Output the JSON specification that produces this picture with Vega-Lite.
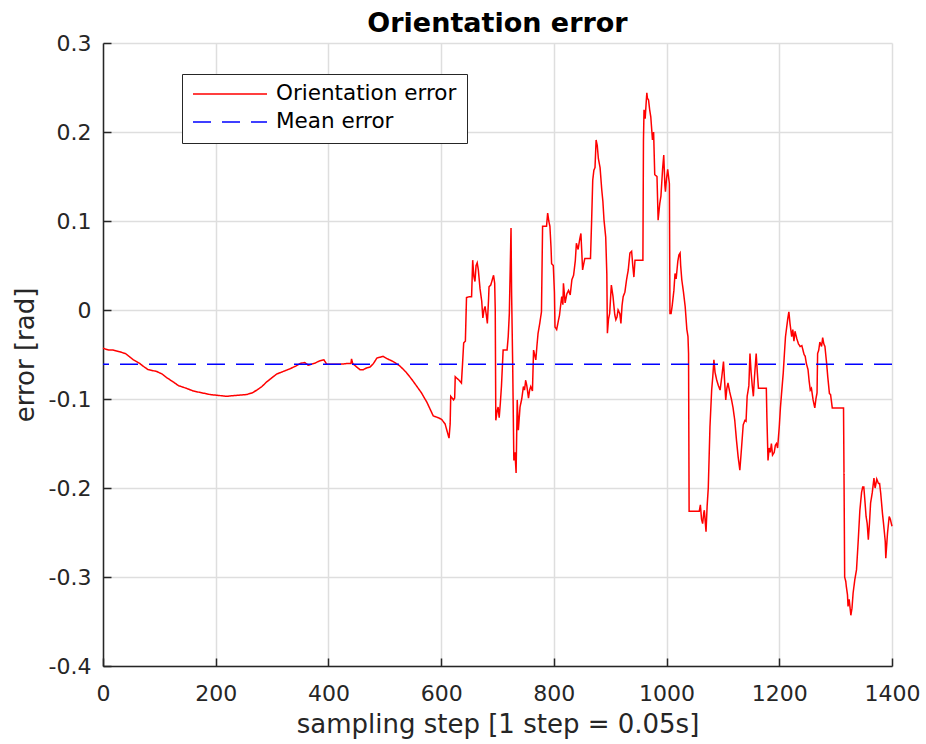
{
  "$schema": "https://vega.github.io/schema/vega-lite/v6.json",
  "width": 789,
  "height": 623,
  "autosize": {"type": "none"},
  "padding": {"left": 103, "top": 43, "right": 34, "bottom": 78},
  "background": "white",
  "config": {
    "font": "DejaVu Sans",
    "view": {"stroke": null},
    "axis": {
      "grid": true,
      "gridColor": "#dedede",
      "gridWidth": 1.5,
      "domainColor": "#262626",
      "domainWidth": 1.5,
      "tickColor": "#262626",
      "tickWidth": 1.5,
      "tickSize": -8,
      "labelFontSize": 22,
      "labelColor": "#262626",
      "labelOverlap": false,
      "titleFontSize": 26,
      "titleFontWeight": "normal",
      "titleColor": "#262626"
    },
    "legend": {
      "symbolType": "stroke",
      "symbolSize": 5476,
      "symbolStrokeWidth": 1.5,
      "clipHeight": 20,
      "labelFontSize": 21.5,
      "labelColor": "#000000",
      "labelOffset": 8,
      "labelLimit": 400,
      "padding": 10,
      "rowPadding": 6,
      "strokeColor": "#262626",
      "fillColor": "white"
    }
  },
  "title": {
    "text": "Orientation error",
    "fontSize": 27,
    "fontWeight": "bold",
    "color": "#000000",
    "anchor": "middle",
    "offset": -6
  },
  "data": {
    "values": [
      {"step": 0, "error": -0.043, "series": "Orientation error"},
      {"step": 10, "error": -0.045, "series": "Orientation error"},
      {"step": 18, "error": -0.045, "series": "Orientation error"},
      {"step": 30, "error": -0.047, "series": "Orientation error"},
      {"step": 40, "error": -0.049, "series": "Orientation error"},
      {"step": 54, "error": -0.056, "series": "Orientation error"},
      {"step": 65, "error": -0.06, "series": "Orientation error"},
      {"step": 71, "error": -0.063, "series": "Orientation error"},
      {"step": 80, "error": -0.067, "series": "Orientation error"},
      {"step": 95, "error": -0.069, "series": "Orientation error"},
      {"step": 105, "error": -0.072, "series": "Orientation error"},
      {"step": 113, "error": -0.076, "series": "Orientation error"},
      {"step": 125, "error": -0.081, "series": "Orientation error"},
      {"step": 134, "error": -0.085, "series": "Orientation error"},
      {"step": 148, "error": -0.088, "series": "Orientation error"},
      {"step": 160, "error": -0.091, "series": "Orientation error"},
      {"step": 175, "error": -0.093, "series": "Orientation error"},
      {"step": 190, "error": -0.095, "series": "Orientation error"},
      {"step": 205, "error": -0.096, "series": "Orientation error"},
      {"step": 219, "error": -0.097, "series": "Orientation error"},
      {"step": 235, "error": -0.096, "series": "Orientation error"},
      {"step": 255, "error": -0.095, "series": "Orientation error"},
      {"step": 265, "error": -0.093, "series": "Orientation error"},
      {"step": 273, "error": -0.09, "series": "Orientation error"},
      {"step": 282, "error": -0.086, "series": "Orientation error"},
      {"step": 290, "error": -0.081, "series": "Orientation error"},
      {"step": 300, "error": -0.076, "series": "Orientation error"},
      {"step": 308, "error": -0.072, "series": "Orientation error"},
      {"step": 320, "error": -0.069, "series": "Orientation error"},
      {"step": 332, "error": -0.066, "series": "Orientation error"},
      {"step": 342, "error": -0.063, "series": "Orientation error"},
      {"step": 350, "error": -0.06, "series": "Orientation error"},
      {"step": 358, "error": -0.059, "series": "Orientation error"},
      {"step": 364, "error": -0.062, "series": "Orientation error"},
      {"step": 375, "error": -0.06, "series": "Orientation error"},
      {"step": 385, "error": -0.057, "series": "Orientation error"},
      {"step": 392, "error": -0.056, "series": "Orientation error"},
      {"step": 397, "error": -0.061, "series": "Orientation error"},
      {"step": 410, "error": -0.061, "series": "Orientation error"},
      {"step": 420, "error": -0.061, "series": "Orientation error"},
      {"step": 435, "error": -0.06, "series": "Orientation error"},
      {"step": 440, "error": -0.06, "series": "Orientation error"},
      {"step": 441, "error": -0.055, "series": "Orientation error"},
      {"step": 443, "error": -0.06, "series": "Orientation error"},
      {"step": 450, "error": -0.064, "series": "Orientation error"},
      {"step": 456, "error": -0.067, "series": "Orientation error"},
      {"step": 462, "error": -0.067, "series": "Orientation error"},
      {"step": 468, "error": -0.065, "series": "Orientation error"},
      {"step": 474, "error": -0.064, "series": "Orientation error"},
      {"step": 480, "error": -0.06, "series": "Orientation error"},
      {"step": 486, "error": -0.054, "series": "Orientation error"},
      {"step": 492, "error": -0.053, "series": "Orientation error"},
      {"step": 497, "error": -0.052, "series": "Orientation error"},
      {"step": 505, "error": -0.055, "series": "Orientation error"},
      {"step": 512, "error": -0.057, "series": "Orientation error"},
      {"step": 520, "error": -0.06, "series": "Orientation error"},
      {"step": 527, "error": -0.063, "series": "Orientation error"},
      {"step": 538, "error": -0.07, "series": "Orientation error"},
      {"step": 548, "error": -0.078, "series": "Orientation error"},
      {"step": 556, "error": -0.085, "series": "Orientation error"},
      {"step": 565, "error": -0.093, "series": "Orientation error"},
      {"step": 575, "error": -0.104, "series": "Orientation error"},
      {"step": 586, "error": -0.119, "series": "Orientation error"},
      {"step": 595, "error": -0.121, "series": "Orientation error"},
      {"step": 601, "error": -0.123, "series": "Orientation error"},
      {"step": 607, "error": -0.128, "series": "Orientation error"},
      {"step": 614, "error": -0.144, "series": "Orientation error"},
      {"step": 616, "error": -0.128, "series": "Orientation error"},
      {"step": 617, "error": -0.097, "series": "Orientation error"},
      {"step": 622, "error": -0.101, "series": "Orientation error"},
      {"step": 624, "error": -0.099, "series": "Orientation error"},
      {"step": 625, "error": -0.075, "series": "Orientation error"},
      {"step": 632, "error": -0.079, "series": "Orientation error"},
      {"step": 636, "error": -0.082, "series": "Orientation error"},
      {"step": 638, "error": -0.06, "series": "Orientation error"},
      {"step": 640, "error": -0.037, "series": "Orientation error"},
      {"step": 643, "error": -0.035, "series": "Orientation error"},
      {"step": 645, "error": 0.014, "series": "Orientation error"},
      {"step": 650, "error": 0.015, "series": "Orientation error"},
      {"step": 654, "error": 0.015, "series": "Orientation error"},
      {"step": 656, "error": 0.056, "series": "Orientation error"},
      {"step": 658, "error": 0.038, "series": "Orientation error"},
      {"step": 660, "error": 0.032, "series": "Orientation error"},
      {"step": 662, "error": 0.05, "series": "Orientation error"},
      {"step": 664, "error": 0.053, "series": "Orientation error"},
      {"step": 666, "error": 0.045, "series": "Orientation error"},
      {"step": 669, "error": 0.024, "series": "Orientation error"},
      {"step": 672, "error": 0.01, "series": "Orientation error"},
      {"step": 674, "error": -0.009, "series": "Orientation error"},
      {"step": 676, "error": 0.0, "series": "Orientation error"},
      {"step": 678, "error": 0.004, "series": "Orientation error"},
      {"step": 680, "error": -0.005, "series": "Orientation error"},
      {"step": 682, "error": -0.015, "series": "Orientation error"},
      {"step": 684, "error": 0.01, "series": "Orientation error"},
      {"step": 685, "error": 0.026, "series": "Orientation error"},
      {"step": 688, "error": 0.028, "series": "Orientation error"},
      {"step": 693, "error": 0.039, "series": "Orientation error"},
      {"step": 695, "error": 0.03, "series": "Orientation error"},
      {"step": 696, "error": 0.0, "series": "Orientation error"},
      {"step": 697, "error": -0.124, "series": "Orientation error"},
      {"step": 699, "error": -0.115, "series": "Orientation error"},
      {"step": 701, "error": -0.109, "series": "Orientation error"},
      {"step": 703, "error": -0.121, "series": "Orientation error"},
      {"step": 705, "error": -0.105, "series": "Orientation error"},
      {"step": 707, "error": -0.086, "series": "Orientation error"},
      {"step": 710, "error": -0.045, "series": "Orientation error"},
      {"step": 717, "error": -0.045, "series": "Orientation error"},
      {"step": 719, "error": -0.03, "series": "Orientation error"},
      {"step": 721, "error": -0.004, "series": "Orientation error"},
      {"step": 724, "error": 0.092, "series": "Orientation error"},
      {"step": 725, "error": 0.02, "series": "Orientation error"},
      {"step": 727, "error": -0.064, "series": "Orientation error"},
      {"step": 729, "error": -0.169, "series": "Orientation error"},
      {"step": 731, "error": -0.16, "series": "Orientation error"},
      {"step": 733, "error": -0.183, "series": "Orientation error"},
      {"step": 735, "error": -0.101, "series": "Orientation error"},
      {"step": 737, "error": -0.135, "series": "Orientation error"},
      {"step": 740, "error": -0.109, "series": "Orientation error"},
      {"step": 743, "error": -0.1, "series": "Orientation error"},
      {"step": 746, "error": -0.086, "series": "Orientation error"},
      {"step": 748, "error": -0.09, "series": "Orientation error"},
      {"step": 750, "error": -0.079, "series": "Orientation error"},
      {"step": 752, "error": -0.085, "series": "Orientation error"},
      {"step": 755, "error": -0.099, "series": "Orientation error"},
      {"step": 757, "error": -0.09, "series": "Orientation error"},
      {"step": 759, "error": -0.086, "series": "Orientation error"},
      {"step": 762, "error": -0.091, "series": "Orientation error"},
      {"step": 764, "error": -0.045, "series": "Orientation error"},
      {"step": 768, "error": -0.056, "series": "Orientation error"},
      {"step": 770, "error": -0.04, "series": "Orientation error"},
      {"step": 772, "error": -0.026, "series": "Orientation error"},
      {"step": 775, "error": -0.015, "series": "Orientation error"},
      {"step": 778, "error": -0.002, "series": "Orientation error"},
      {"step": 780, "error": 0.094, "series": "Orientation error"},
      {"step": 787, "error": 0.094, "series": "Orientation error"},
      {"step": 789, "error": 0.109, "series": "Orientation error"},
      {"step": 791, "error": 0.1, "series": "Orientation error"},
      {"step": 793, "error": 0.094, "series": "Orientation error"},
      {"step": 795, "error": 0.07, "series": "Orientation error"},
      {"step": 796, "error": 0.052, "series": "Orientation error"},
      {"step": 799, "error": 0.05, "series": "Orientation error"},
      {"step": 801, "error": 0.02, "series": "Orientation error"},
      {"step": 802, "error": -0.019, "series": "Orientation error"},
      {"step": 805, "error": -0.022, "series": "Orientation error"},
      {"step": 808, "error": -0.012, "series": "Orientation error"},
      {"step": 810, "error": -0.006, "series": "Orientation error"},
      {"step": 812, "error": 0.005, "series": "Orientation error"},
      {"step": 814, "error": 0.015, "series": "Orientation error"},
      {"step": 816, "error": 0.006, "series": "Orientation error"},
      {"step": 817, "error": 0.03, "series": "Orientation error"},
      {"step": 820, "error": 0.008, "series": "Orientation error"},
      {"step": 823, "error": 0.018, "series": "Orientation error"},
      {"step": 826, "error": 0.022, "series": "Orientation error"},
      {"step": 829, "error": 0.017, "series": "Orientation error"},
      {"step": 832, "error": 0.034, "series": "Orientation error"},
      {"step": 835, "error": 0.039, "series": "Orientation error"},
      {"step": 838, "error": 0.055, "series": "Orientation error"},
      {"step": 840, "error": 0.075, "series": "Orientation error"},
      {"step": 843, "error": 0.068, "series": "Orientation error"},
      {"step": 846, "error": 0.08, "series": "Orientation error"},
      {"step": 848, "error": 0.086, "series": "Orientation error"},
      {"step": 851, "error": 0.045, "series": "Orientation error"},
      {"step": 853, "error": 0.052, "series": "Orientation error"},
      {"step": 855, "error": 0.058, "series": "Orientation error"},
      {"step": 865, "error": 0.058, "series": "Orientation error"},
      {"step": 867, "error": 0.1, "series": "Orientation error"},
      {"step": 869, "error": 0.146, "series": "Orientation error"},
      {"step": 871, "error": 0.157, "series": "Orientation error"},
      {"step": 873, "error": 0.16, "series": "Orientation error"},
      {"step": 875, "error": 0.191, "series": "Orientation error"},
      {"step": 877, "error": 0.185, "series": "Orientation error"},
      {"step": 879, "error": 0.17, "series": "Orientation error"},
      {"step": 882, "error": 0.16, "series": "Orientation error"},
      {"step": 885, "error": 0.135, "series": "Orientation error"},
      {"step": 887, "error": 0.122, "series": "Orientation error"},
      {"step": 889, "error": 0.101, "series": "Orientation error"},
      {"step": 892, "error": 0.082, "series": "Orientation error"},
      {"step": 894, "error": 0.04, "series": "Orientation error"},
      {"step": 895, "error": -0.026, "series": "Orientation error"},
      {"step": 897, "error": -0.01, "series": "Orientation error"},
      {"step": 899, "error": -0.004, "series": "Orientation error"},
      {"step": 902, "error": 0.028, "series": "Orientation error"},
      {"step": 905, "error": 0.015, "series": "Orientation error"},
      {"step": 908, "error": -0.005, "series": "Orientation error"},
      {"step": 910, "error": -0.011, "series": "Orientation error"},
      {"step": 912, "error": -0.008, "series": "Orientation error"},
      {"step": 914, "error": 0.0, "series": "Orientation error"},
      {"step": 917, "error": -0.004, "series": "Orientation error"},
      {"step": 919, "error": -0.015, "series": "Orientation error"},
      {"step": 921, "error": 0.005, "series": "Orientation error"},
      {"step": 923, "error": 0.015, "series": "Orientation error"},
      {"step": 926, "error": 0.02, "series": "Orientation error"},
      {"step": 929, "error": 0.034, "series": "Orientation error"},
      {"step": 932, "error": 0.045, "series": "Orientation error"},
      {"step": 935, "error": 0.064, "series": "Orientation error"},
      {"step": 938, "error": 0.066, "series": "Orientation error"},
      {"step": 940, "error": 0.05, "series": "Orientation error"},
      {"step": 942, "error": 0.037, "series": "Orientation error"},
      {"step": 944, "error": 0.056, "series": "Orientation error"},
      {"step": 958, "error": 0.056, "series": "Orientation error"},
      {"step": 959, "error": 0.191, "series": "Orientation error"},
      {"step": 960, "error": 0.225, "series": "Orientation error"},
      {"step": 962, "error": 0.215, "series": "Orientation error"},
      {"step": 964, "error": 0.235, "series": "Orientation error"},
      {"step": 965, "error": 0.244, "series": "Orientation error"},
      {"step": 966, "error": 0.238, "series": "Orientation error"},
      {"step": 968, "error": 0.236, "series": "Orientation error"},
      {"step": 970, "error": 0.225, "series": "Orientation error"},
      {"step": 972, "error": 0.217, "series": "Orientation error"},
      {"step": 975, "error": 0.191, "series": "Orientation error"},
      {"step": 977, "error": 0.2, "series": "Orientation error"},
      {"step": 979, "error": 0.152, "series": "Orientation error"},
      {"step": 983, "error": 0.15, "series": "Orientation error"},
      {"step": 985, "error": 0.101, "series": "Orientation error"},
      {"step": 988, "error": 0.12, "series": "Orientation error"},
      {"step": 990, "error": 0.128, "series": "Orientation error"},
      {"step": 993, "error": 0.159, "series": "Orientation error"},
      {"step": 995, "error": 0.174, "series": "Orientation error"},
      {"step": 997, "error": 0.14, "series": "Orientation error"},
      {"step": 998, "error": 0.133, "series": "Orientation error"},
      {"step": 1000, "error": 0.148, "series": "Orientation error"},
      {"step": 1002, "error": 0.158, "series": "Orientation error"},
      {"step": 1005, "error": 0.142, "series": "Orientation error"},
      {"step": 1006, "error": -0.004, "series": "Orientation error"},
      {"step": 1008, "error": -0.004, "series": "Orientation error"},
      {"step": 1010, "error": 0.005, "series": "Orientation error"},
      {"step": 1013, "error": 0.022, "series": "Orientation error"},
      {"step": 1015, "error": 0.041, "series": "Orientation error"},
      {"step": 1017, "error": 0.035, "series": "Orientation error"},
      {"step": 1020, "error": 0.055, "series": "Orientation error"},
      {"step": 1022, "error": 0.062, "series": "Orientation error"},
      {"step": 1024, "error": 0.064, "series": "Orientation error"},
      {"step": 1025, "error": 0.05, "series": "Orientation error"},
      {"step": 1027, "error": 0.034, "series": "Orientation error"},
      {"step": 1030, "error": 0.02, "series": "Orientation error"},
      {"step": 1033, "error": 0.004, "series": "Orientation error"},
      {"step": 1036, "error": -0.022, "series": "Orientation error"},
      {"step": 1038, "error": -0.03, "series": "Orientation error"},
      {"step": 1039, "error": -0.049, "series": "Orientation error"},
      {"step": 1040, "error": -0.226, "series": "Orientation error"},
      {"step": 1050, "error": -0.226, "series": "Orientation error"},
      {"step": 1058, "error": -0.226, "series": "Orientation error"},
      {"step": 1060, "error": -0.219, "series": "Orientation error"},
      {"step": 1062, "error": -0.235, "series": "Orientation error"},
      {"step": 1064, "error": -0.24, "series": "Orientation error"},
      {"step": 1066, "error": -0.228, "series": "Orientation error"},
      {"step": 1067, "error": -0.225, "series": "Orientation error"},
      {"step": 1070, "error": -0.249, "series": "Orientation error"},
      {"step": 1072, "error": -0.22, "series": "Orientation error"},
      {"step": 1074, "error": -0.2, "series": "Orientation error"},
      {"step": 1077, "error": -0.131, "series": "Orientation error"},
      {"step": 1080, "error": -0.09, "series": "Orientation error"},
      {"step": 1082, "error": -0.075, "series": "Orientation error"},
      {"step": 1084, "error": -0.056, "series": "Orientation error"},
      {"step": 1086, "error": -0.07, "series": "Orientation error"},
      {"step": 1089, "error": -0.079, "series": "Orientation error"},
      {"step": 1092, "error": -0.085, "series": "Orientation error"},
      {"step": 1095, "error": -0.09, "series": "Orientation error"},
      {"step": 1098, "error": -0.075, "series": "Orientation error"},
      {"step": 1101, "error": -0.058, "series": "Orientation error"},
      {"step": 1103, "error": -0.08, "series": "Orientation error"},
      {"step": 1105, "error": -0.101, "series": "Orientation error"},
      {"step": 1107, "error": -0.088, "series": "Orientation error"},
      {"step": 1109, "error": -0.082, "series": "Orientation error"},
      {"step": 1112, "error": -0.092, "series": "Orientation error"},
      {"step": 1115, "error": -0.1, "series": "Orientation error"},
      {"step": 1118, "error": -0.11, "series": "Orientation error"},
      {"step": 1121, "error": -0.124, "series": "Orientation error"},
      {"step": 1124, "error": -0.146, "series": "Orientation error"},
      {"step": 1127, "error": -0.165, "series": "Orientation error"},
      {"step": 1130, "error": -0.18, "series": "Orientation error"},
      {"step": 1133, "error": -0.155, "series": "Orientation error"},
      {"step": 1136, "error": -0.129, "series": "Orientation error"},
      {"step": 1139, "error": -0.124, "series": "Orientation error"},
      {"step": 1141, "error": -0.125, "series": "Orientation error"},
      {"step": 1143, "error": -0.097, "series": "Orientation error"},
      {"step": 1146, "error": -0.085, "series": "Orientation error"},
      {"step": 1148, "error": -0.049, "series": "Orientation error"},
      {"step": 1150, "error": -0.07, "series": "Orientation error"},
      {"step": 1152, "error": -0.085, "series": "Orientation error"},
      {"step": 1154, "error": -0.097, "series": "Orientation error"},
      {"step": 1156, "error": -0.075, "series": "Orientation error"},
      {"step": 1159, "error": -0.049, "series": "Orientation error"},
      {"step": 1161, "error": -0.07, "series": "Orientation error"},
      {"step": 1163, "error": -0.088, "series": "Orientation error"},
      {"step": 1170, "error": -0.088, "series": "Orientation error"},
      {"step": 1177, "error": -0.088, "series": "Orientation error"},
      {"step": 1178, "error": -0.12, "series": "Orientation error"},
      {"step": 1180, "error": -0.169, "series": "Orientation error"},
      {"step": 1182, "error": -0.155, "series": "Orientation error"},
      {"step": 1184, "error": -0.16, "series": "Orientation error"},
      {"step": 1186, "error": -0.15, "series": "Orientation error"},
      {"step": 1188, "error": -0.163, "series": "Orientation error"},
      {"step": 1191, "error": -0.16, "series": "Orientation error"},
      {"step": 1193, "error": -0.152, "series": "Orientation error"},
      {"step": 1195, "error": -0.15, "series": "Orientation error"},
      {"step": 1197, "error": -0.155, "series": "Orientation error"},
      {"step": 1200, "error": -0.131, "series": "Orientation error"},
      {"step": 1202, "error": -0.11, "series": "Orientation error"},
      {"step": 1204, "error": -0.094, "series": "Orientation error"},
      {"step": 1207, "error": -0.071, "series": "Orientation error"},
      {"step": 1209, "error": -0.05, "series": "Orientation error"},
      {"step": 1211, "error": -0.03, "series": "Orientation error"},
      {"step": 1213, "error": -0.02, "series": "Orientation error"},
      {"step": 1215, "error": -0.01, "series": "Orientation error"},
      {"step": 1217, "error": -0.002, "series": "Orientation error"},
      {"step": 1219, "error": -0.015, "series": "Orientation error"},
      {"step": 1222, "error": -0.03, "series": "Orientation error"},
      {"step": 1224, "error": -0.022, "series": "Orientation error"},
      {"step": 1226, "error": -0.035, "series": "Orientation error"},
      {"step": 1228, "error": -0.024, "series": "Orientation error"},
      {"step": 1231, "error": -0.032, "series": "Orientation error"},
      {"step": 1234, "error": -0.038, "series": "Orientation error"},
      {"step": 1237, "error": -0.041, "series": "Orientation error"},
      {"step": 1240, "error": -0.04, "series": "Orientation error"},
      {"step": 1242, "error": -0.045, "series": "Orientation error"},
      {"step": 1244, "error": -0.05, "series": "Orientation error"},
      {"step": 1246, "error": -0.052, "series": "Orientation error"},
      {"step": 1248, "error": -0.06, "series": "Orientation error"},
      {"step": 1251, "error": -0.067, "series": "Orientation error"},
      {"step": 1253, "error": -0.08, "series": "Orientation error"},
      {"step": 1255, "error": -0.09, "series": "Orientation error"},
      {"step": 1257, "error": -0.088, "series": "Orientation error"},
      {"step": 1260, "error": -0.101, "series": "Orientation error"},
      {"step": 1263, "error": -0.11, "series": "Orientation error"},
      {"step": 1265, "error": -0.1, "series": "Orientation error"},
      {"step": 1267, "error": -0.093, "series": "Orientation error"},
      {"step": 1268, "error": -0.049, "series": "Orientation error"},
      {"step": 1270, "error": -0.045, "series": "Orientation error"},
      {"step": 1272, "error": -0.036, "series": "Orientation error"},
      {"step": 1275, "error": -0.041, "series": "Orientation error"},
      {"step": 1277, "error": -0.031, "series": "Orientation error"},
      {"step": 1279, "error": -0.038, "series": "Orientation error"},
      {"step": 1281, "error": -0.041, "series": "Orientation error"},
      {"step": 1284, "error": -0.06, "series": "Orientation error"},
      {"step": 1286, "error": -0.075, "series": "Orientation error"},
      {"step": 1289, "error": -0.094, "series": "Orientation error"},
      {"step": 1291, "error": -0.095, "series": "Orientation error"},
      {"step": 1294, "error": -0.11, "series": "Orientation error"},
      {"step": 1300, "error": -0.11, "series": "Orientation error"},
      {"step": 1314, "error": -0.11, "series": "Orientation error"},
      {"step": 1315, "error": -0.2, "series": "Orientation error"},
      {"step": 1316, "error": -0.3, "series": "Orientation error"},
      {"step": 1318, "error": -0.305, "series": "Orientation error"},
      {"step": 1319, "error": -0.311, "series": "Orientation error"},
      {"step": 1321, "error": -0.32, "series": "Orientation error"},
      {"step": 1322, "error": -0.333, "series": "Orientation error"},
      {"step": 1324, "error": -0.325, "series": "Orientation error"},
      {"step": 1327, "error": -0.343, "series": "Orientation error"},
      {"step": 1329, "error": -0.335, "series": "Orientation error"},
      {"step": 1331, "error": -0.318, "series": "Orientation error"},
      {"step": 1334, "error": -0.303, "series": "Orientation error"},
      {"step": 1337, "error": -0.292, "series": "Orientation error"},
      {"step": 1340, "error": -0.26, "series": "Orientation error"},
      {"step": 1343, "error": -0.225, "series": "Orientation error"},
      {"step": 1346, "error": -0.205, "series": "Orientation error"},
      {"step": 1348, "error": -0.199, "series": "Orientation error"},
      {"step": 1350, "error": -0.199, "series": "Orientation error"},
      {"step": 1352, "error": -0.215, "series": "Orientation error"},
      {"step": 1354, "error": -0.232, "series": "Orientation error"},
      {"step": 1356, "error": -0.24, "series": "Orientation error"},
      {"step": 1358, "error": -0.258, "series": "Orientation error"},
      {"step": 1360, "error": -0.24, "series": "Orientation error"},
      {"step": 1362, "error": -0.217, "series": "Orientation error"},
      {"step": 1365, "error": -0.205, "series": "Orientation error"},
      {"step": 1368, "error": -0.189, "series": "Orientation error"},
      {"step": 1370, "error": -0.2, "series": "Orientation error"},
      {"step": 1371, "error": -0.197, "series": "Orientation error"},
      {"step": 1373, "error": -0.19, "series": "Orientation error"},
      {"step": 1376, "error": -0.195, "series": "Orientation error"},
      {"step": 1378, "error": -0.195, "series": "Orientation error"},
      {"step": 1380, "error": -0.206, "series": "Orientation error"},
      {"step": 1383, "error": -0.228, "series": "Orientation error"},
      {"step": 1385, "error": -0.24, "series": "Orientation error"},
      {"step": 1388, "error": -0.26, "series": "Orientation error"},
      {"step": 1389, "error": -0.279, "series": "Orientation error"},
      {"step": 1392, "error": -0.251, "series": "Orientation error"},
      {"step": 1395, "error": -0.232, "series": "Orientation error"},
      {"step": 1397, "error": -0.235, "series": "Orientation error"},
      {"step": 1400, "error": -0.243, "series": "Orientation error"}
    ]
  },
  "layer": [
    {
      "mark": {"type": "line", "strokeWidth": 1.5},
      "encoding": {
        "x": {
          "field": "step",
          "type": "quantitative",
          "scale": {"domain": [0, 1400], "nice": false, "zero": false},
          "axis": {
            "title": "sampling step [1 step = 0.05s]",
            "values": [0, 200, 400, 600, 800, 1000, 1200, 1400],
            "format": "d",
            "labelPadding": 25,
            "labelFlush": false,
            "titlePadding": 7
          }
        },
        "y": {
          "field": "error",
          "type": "quantitative",
          "title": "error [rad]",
          "scale": {"domain": [-0.4, 0.3], "nice": false, "zero": false},
          "axis": {
            "title": "error [rad]",
            "values": [-0.4, -0.3, -0.2, -0.1, 0, 0.1, 0.2, 0.3],
            "labelExpr": "datum.value == 0 ? '0' : replace(format(datum.value, '.1f'), '\u2212', '-')",
            "labelPadding": 20,
            "titlePadding": 10
          }
        },
        "color": {
          "field": "series",
          "type": "nominal",
          "scale": {"domain": ["Orientation error", "Mean error"], "range": ["#ff0000", "#0000ff"]},
          "legend": {"title": null, "orient": "none", "legendX": 79, "legendY": 31}
        },
        "strokeDash": {
          "field": "series",
          "type": "nominal",
          "scale": {"domain": ["Orientation error", "Mean error"], "range": [[1, 0], [18, 11]]},
          "legend": {"title": null, "orient": "none", "legendX": 79, "legendY": 31}
        }
      }
    },
    {
      "data": {"values": [{"mean": -0.061, "series": "Mean error"}]},
      "mark": {"type": "rule", "strokeWidth": 1.5},
      "encoding": {
        "y": {
          "field": "mean",
          "type": "quantitative",
          "title": "error [rad]",
          "axis": {
            "title": "error [rad]",
            "values": [-0.4, -0.3, -0.2, -0.1, 0, 0.1, 0.2, 0.3],
            "labelExpr": "datum.value == 0 ? '0' : replace(format(datum.value, '.1f'), '\u2212', '-')",
            "labelPadding": 20,
            "titlePadding": 10
          }
        },
        "color": {"field": "series", "type": "nominal"},
        "strokeDash": {"field": "series", "type": "nominal"}
      }
    }
  ]
}
